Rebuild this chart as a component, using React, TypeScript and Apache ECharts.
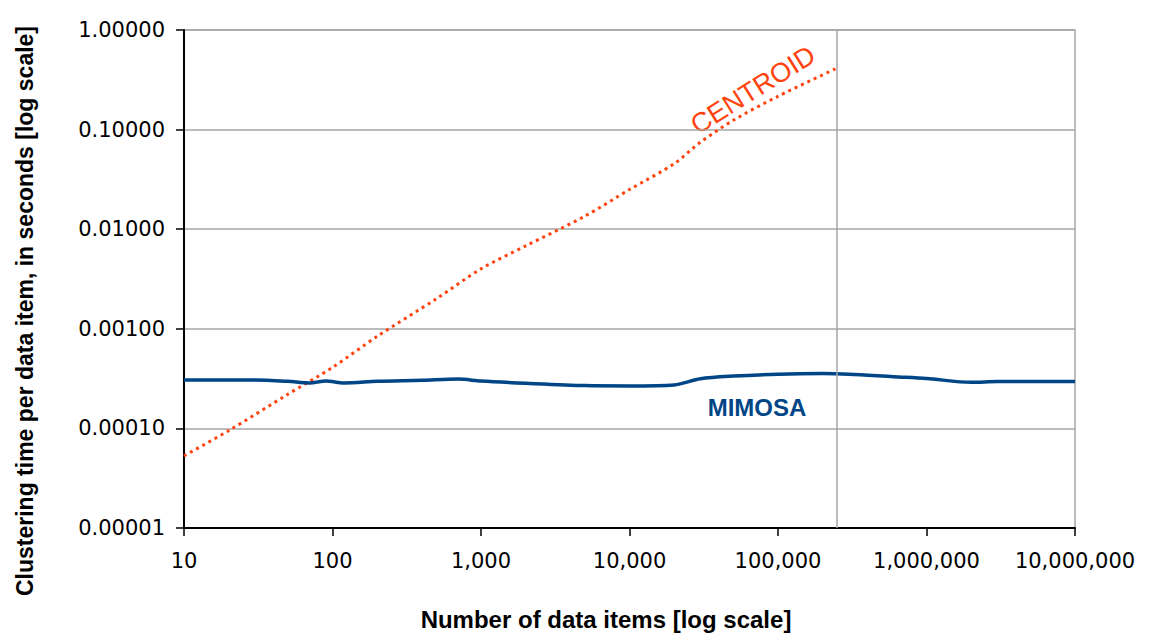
import React, { useEffect, useRef } from "react";
import * as echarts from "echarts";

// Number of data items (x) and clustering time per item in seconds (y)
const centroidX = [10, 20, 50, 100, 200, 500, 1000, 2000, 5000, 10000, 20000, 30000, 50000, 100000, 250000];
const centroidY = [5.3e-5, 9.5e-5, 2.2e-4, 4.1e-4, 8.4e-4, 2.0e-3, 4.0e-3, 6.8e-3, 1.35e-2, 2.5e-2, 4.55e-2, 7.46e-2, 0.124, 0.216, 0.415];

const mimosaX = [10, 20, 30, 50, 70, 90, 120, 200, 400, 700, 1000, 2000, 5000, 10000, 20000, 30000, 50000, 100000, 200000, 300000, 600000, 1000000, 2000000, 3000000, 5000000, 10000000];
const mimosaY = [3.06e-4, 3.06e-4, 3.06e-4, 2.97e-4, 2.86e-4, 2.99e-4, 2.86e-4, 2.97e-4, 3.04e-4, 3.13e-4, 2.99e-4, 2.84e-4, 2.69e-4, 2.67e-4, 2.73e-4, 3.15e-4, 3.35e-4, 3.5e-4, 3.55e-4, 3.5e-4, 3.3e-4, 3.17e-4, 2.9e-4, 2.95e-4, 2.95e-4, 2.95e-4];

const markerX = 250000;

const xTitle = "Number of data items [log scale]";
const yTitle = "Clustering time per data item, in seconds [log scale]";

const TICK_FONT = "'DejaVu Sans', 'Liberation Sans', sans-serif";
const TITLE_FONT = "'Liberation Sans', Arial, sans-serif";

export default function App() {
  const ref = useRef<HTMLDivElement>(null);
  useEffect(() => {
    if (!ref.current) return;
    const chart = echarts.init(ref.current, undefined, { renderer: "svg" });
    chart.setOption({
      animation: false,
      backgroundColor: "#ffffff",
      grid: {
        left: 184,
        right: 74,
        top: 30,
        bottom: 116,
        containLabel: false,
        outerBoundsMode: "none",
        show: true,
        borderColor: "#a6a6a6",
        borderWidth: 1.5,
      },
      xAxis: {
        type: "log",
        logBase: 10,
        min: 10,
        max: 10000000,
        axisLine: { show: true, lineStyle: { color: "#000", width: 2 } },
        axisTick: { show: true, inside: false, length: 8, lineStyle: { color: "#000", width: 1.5 } },
        minorTick: { show: false },
        splitLine: { show: false },
        axisLabel: {
          margin: 22,
          fontSize: 21,
          fontFamily: TICK_FONT,
          color: "#000",
          formatter: (v: number) => Math.round(v).toLocaleString("en-US"),
        },
      },
      yAxis: {
        type: "log",
        logBase: 10,
        min: 0.00001,
        max: 1,
        axisLine: { show: true, lineStyle: { color: "#000", width: 2 } },
        axisTick: { show: true, inside: false, length: 8, lineStyle: { color: "#000", width: 1.5 } },
        splitLine: { show: true, lineStyle: { color: "#a6a6a6", width: 1.5 } },
        axisLabel: {
          margin: 19,
          fontSize: 21,
          fontFamily: TICK_FONT,
          color: "#000",
          formatter: (v: number) => v.toFixed(5),
        },
      },
      series: [
        {
          name: "marker",
          type: "line",
          data: [],
          z: 1,
          markLine: {
            silent: true,
            symbol: "none",
            label: { show: false },
            lineStyle: { color: "#a6a6a6", width: 1.5, type: "solid" },
            data: [{ xAxis: markerX }],
          },
        },
        {
          name: "CENTROID",
          type: "line",
          z: 3,
          showSymbol: false,
          smooth: 0.3,
          data: centroidX.map((x, i) => [x, centroidY[i]]),
          lineStyle: { color: "#ff420e", width: 3, type: [3, 4], cap: "butt" },
        },
        {
          name: "MIMOSA",
          type: "line",
          z: 3,
          showSymbol: false,
          smooth: 0.3,
          data: mimosaX.map((x, i) => [x, mimosaY[i]]),
          lineStyle: { color: "#004586", width: 3.5 },
        },
      ],
      graphic: [
        {
          type: "text",
          x: 606,
          y: 619,
          style: {
            text: xTitle,
            fill: "#000",
            fontSize: 24,
            fontWeight: "bold",
            fontFamily: TITLE_FONT,
            align: "center",
            verticalAlign: "middle",
          },
        },
        {
          type: "text",
          x: 25,
          y: 311,
          rotation: Math.PI / 2,
          style: {
            text: yTitle,
            fill: "#000",
            fontSize: 23,
            fontWeight: "bold",
            fontFamily: TITLE_FONT,
            align: "center",
            verticalAlign: "middle",
          },
        },
        {
          type: "text",
          x: 753,
          y: 90,
          rotation: (32 * Math.PI) / 180,
          style: {
            text: "CENTROID",
            fill: "#ff420e",
            fontSize: 27,
            fontFamily: TITLE_FONT,
            align: "center",
            verticalAlign: "middle",
          },
        },
        {
          type: "text",
          x: 757,
          y: 407,
          style: {
            text: "MIMOSA",
            fill: "#004586",
            fontSize: 24,
            fontWeight: "bold",
            fontFamily: TITLE_FONT,
            align: "center",
            verticalAlign: "middle",
          },
        },
      ],
    });
    return () => chart.dispose();
  }, []);
  return <div ref={ref} style={{ position: "absolute", left: 0, top: 0, width: 1149, height: 644 }} />;
}
